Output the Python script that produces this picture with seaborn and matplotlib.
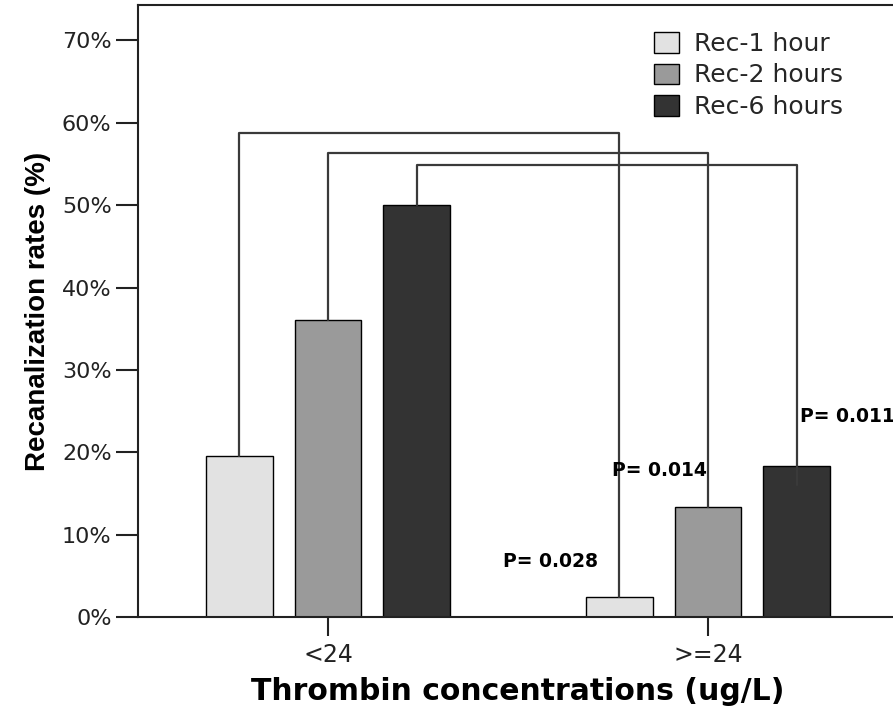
import numpy as np
import matplotlib
matplotlib.use('Agg')
import matplotlib.pyplot as plt
import pandas as pd
import seaborn as sb

# data
groups = ['<24', '>=24']
series = ['Rec-1 hour', 'Rec-2 hours', 'Rec-6 hours']
rec1 = [19.5, 2.4]
rec2 = [36.0, 13.3]
rec6 = [50.0, 18.3]
colors = ['#e2e2e2', '#9a9a9a', '#333333']

# comparison brackets: height of the top line and where the right leg stops
bracket_top = [58.7, 56.3, 54.9]
bracket_end = [2.4, 13.3, 16.0]
p_labels = ['P= 0.028', 'P= 0.014', 'P= 0.011']
p_pos = [(0.46, 6.7), (0.747, 17.8), (1.242, 24.4)]

df = pd.DataFrame({
    'group': groups * 3,
    'series': [s for s in series for _ in groups],
    'rate': rec1 + rec2 + rec6,
})

sb.set_style('white')
plt.rcParams['font.family'] = ['DejaVu Sans']
narrow = ['Liberation Sans Narrow', 'Liberation Sans', 'DejaVu Sans']

fig = plt.figure(figsize=(8.93, 7.09), dpi=100)
ax = fig.add_axes([138/893, 1 - 617/709, (898 - 138)/893, (617 - 5)/709])

sb.barplot(data=df, x='group', y='rate', hue='series', order=groups,
           hue_order=series, palette=colors, width=0.7, gap=0.25,
           edgecolor='black', linewidth=1, ax=ax, legend=True)

ax.set_xlim(-0.5, 1.5)
ax.set_ylim(0, 74.3)
ax.set_yticks(np.arange(0, 71, 10))
ax.set_yticklabels(['%d%%' % v for v in range(0, 71, 10)])

# bar centres per series from the drawn patches
bars = [p for p in ax.patches if p.get_height() > 0]
centres = {}
for p in bars:
    centres.setdefault(p.get_facecolor(), []).append(p.get_x() + p.get_width()/2)
for i, s in enumerate(series):
    xs = sorted(centres[list(centres.keys())[i]])
    vals = [rec1, rec2, rec6][i]
    ax.plot([xs[0], xs[0], xs[1], xs[1]],
            [vals[0], bracket_top[i], bracket_top[i], bracket_end[i]],
            color='#3a3a3a', lw=1.6, zorder=3)

for lab, (x, y) in zip(p_labels, p_pos):
    ax.text(x, y, lab, fontsize=13.5, fontweight='bold', ha='left', va='center',
            color='black', zorder=4)

for side in ['left', 'top', 'bottom', 'right']:
    ax.spines[side].set_color('#222222')
    ax.spines[side].set_linewidth(1.5)
ax.tick_params(axis='y', direction='out', length=16, width=1.5, pad=3,
               labelsize=16, left=True, colors='#222222')
ax.tick_params(axis='x', direction='out', length=14, width=1.5, pad=5,
               labelsize=17, bottom=True, colors='#222222')

ax.set_xlabel('Thrombin concentrations (ug/L)', fontsize=21.5, fontweight='bold',
              labelpad=7, color='black')
ax.set_ylabel('Recanalization rates (%)', fontsize=20, fontweight='bold',
              labelpad=8, color='black', family=narrow)

leg = ax.legend(loc='upper left', bbox_to_anchor=((644 - 138)/760, 1 - 17/612),
                frameon=False, fontsize=18, handlelength=1.0, handleheight=0.9,
                handletextpad=0.6, labelspacing=0.3, borderaxespad=0)

fig.savefig('out.png', dpi=100)
